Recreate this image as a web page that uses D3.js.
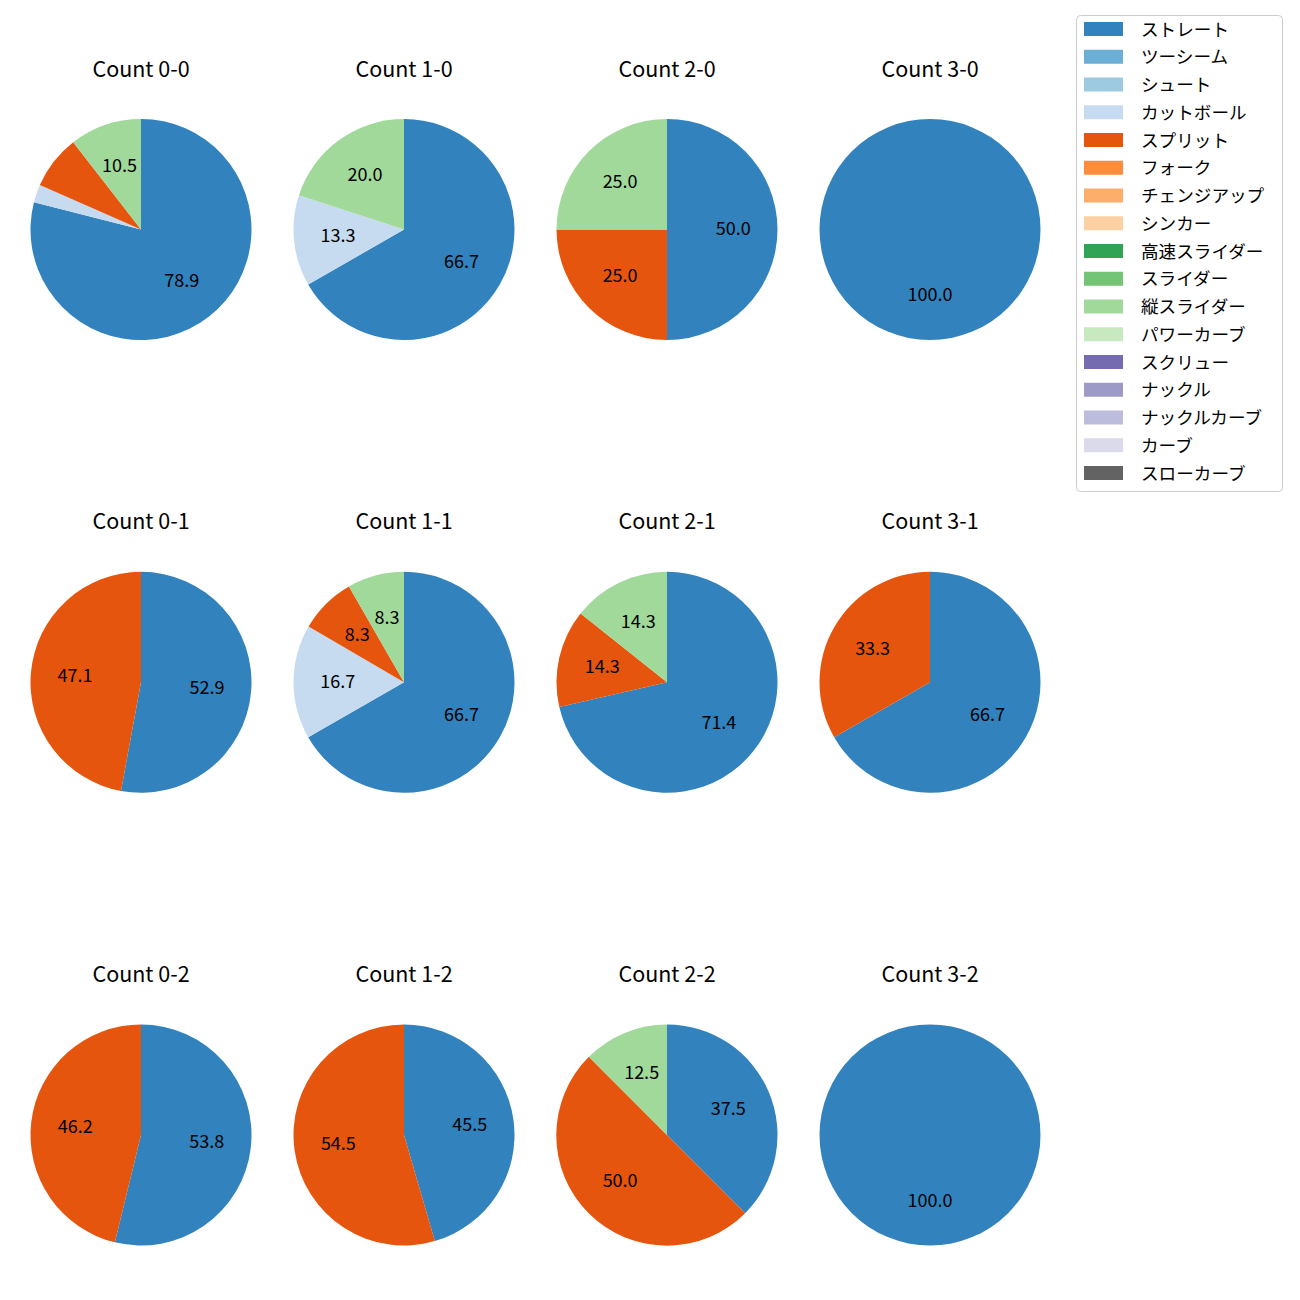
<!DOCTYPE html>
<html><head><meta charset="utf-8">
<script src="https://cdn.jsdelivr.net/npm/d3@7"></script>
<style>body{margin:0;background:#fff}</style>
</head><body>
<svg id="c" width="1300" height="1300"></svg>
<script>
const pitchTypes = ["ストレート","ツーシーム","シュート","カットボール","スプリット","フォーク","チェンジアップ","シンカー","高速スライダー","スライダー","縦スライダー","パワーカーブ","スクリュー","ナックル","ナックルカーブ","カーブ","スローカーブ"];
const colors = ["#3182bd","#6baed6","#9ecae1","#c6dbef","#e6550d","#fd8d3c","#fdae6b","#fdd0a2","#31a354","#74c476","#a1d99b","#c7e9c0","#756bb1","#9e9ac8","#bcbddc","#dadaeb","#636363"];
const counts = ["0-0","1-0","2-0","3-0","0-1","1-1","2-1","3-1","0-2","1-2","2-2","3-2"];
// values per count: [ストレート, カットボール, スプリット, 縦スライダー] percentages
const straight = [78.9, 66.7, 50.0, 100.0, 52.9, 66.7, 71.4, 66.7, 53.8, 45.5, 37.5, 100.0];
const cutball  = [2.6, 13.3, 0, 0, 0, 16.7, 0, 0, 0, 0, 0, 0];
const split    = [7.9, 0, 25.0, 0, 47.1, 8.3, 14.3, 33.3, 46.2, 54.5, 50.0, 0];
const tateSl   = [10.5, 20.0, 25.0, 0, 0, 8.3, 14.3, 0, 0, 0, 12.5, 0];

const svg = d3.select("#c");
const font = "'Noto Sans CJK JP', 'Noto Sans', sans-serif";
const colorScale = d3.scaleOrdinal().domain(pitchTypes).range(colors);
const cx = d3.scalePoint().domain([0,1,2,3]).range([141, 930]);
const cy = d3.scalePoint().domain([0,1,2]).range([229.5, 1135]);
const R = 110.5;
const pie = d3.pie().sort(null).value(d => d.v);
const arc = d3.arc().innerRadius(0).outerRadius(R);
const labelArc = d3.arc().innerRadius(R*0.6).outerRadius(R*0.6);

counts.forEach((c, i) => {
  const col = i % 4, row = Math.floor(i / 4);
  const data = [
    {k:"ストレート", v: straight[i]},
    {k:"カットボール", v: cutball[i]},
    {k:"スプリット", v: split[i]},
    {k:"縦スライダー", v: tateSl[i]}
  ].filter(d => d.v > 0);
  const g = svg.append("g").attr("transform", `translate(${cx(col)},${cy(row)})`);
  const arcs = pie(data);
  g.selectAll("path").data(arcs).join("path")
    .attr("d", arc).attr("fill", d => colorScale(d.data.k));
  g.selectAll("text.lbl").data(arcs.filter(d => d.data.v >= 8)).join("text")
    .attr("class","lbl")
    .attr("transform", d => { const p = labelArc.centroid(d); return `translate(${p[0]},${p[1] - 2.5})`; })
    .attr("text-anchor","middle").attr("dominant-baseline","central")
    .attr("font-family", font).attr("font-size", 18).attr("fill","#000")
    .text(d => d.data.v.toFixed(1));
  g.append("text").attr("x", 0).attr("y", -162.5)
    .attr("text-anchor","middle").attr("dominant-baseline","central")
    .attr("font-family", font).attr("font-size", 21.5).attr("fill","#000")
    .text("Count " + c);
});

// legend
const lg = svg.append("g");
lg.append("rect").attr("x", 1076.5).attr("y", 15.5).attr("width", 206).attr("height", 476)
  .attr("rx", 4).attr("fill","#fff").attr("stroke","#cccccc").attr("stroke-width",1);
const ly = d3.scalePoint().domain(pitchTypes).range([29, 473]);
pitchTypes.forEach(p => {
  lg.append("rect").attr("x", 1084).attr("y", ly(p) - 7).attr("width", 39).attr("height", 14)
    .attr("fill", colorScale(p));
  lg.append("text").attr("x", 1141).attr("y", ly(p) - 1).attr("dominant-baseline","central")
    .attr("font-family", font).attr("font-size", 17.6).attr("fill","#000").text(p);
});
</script>
</body></html>
